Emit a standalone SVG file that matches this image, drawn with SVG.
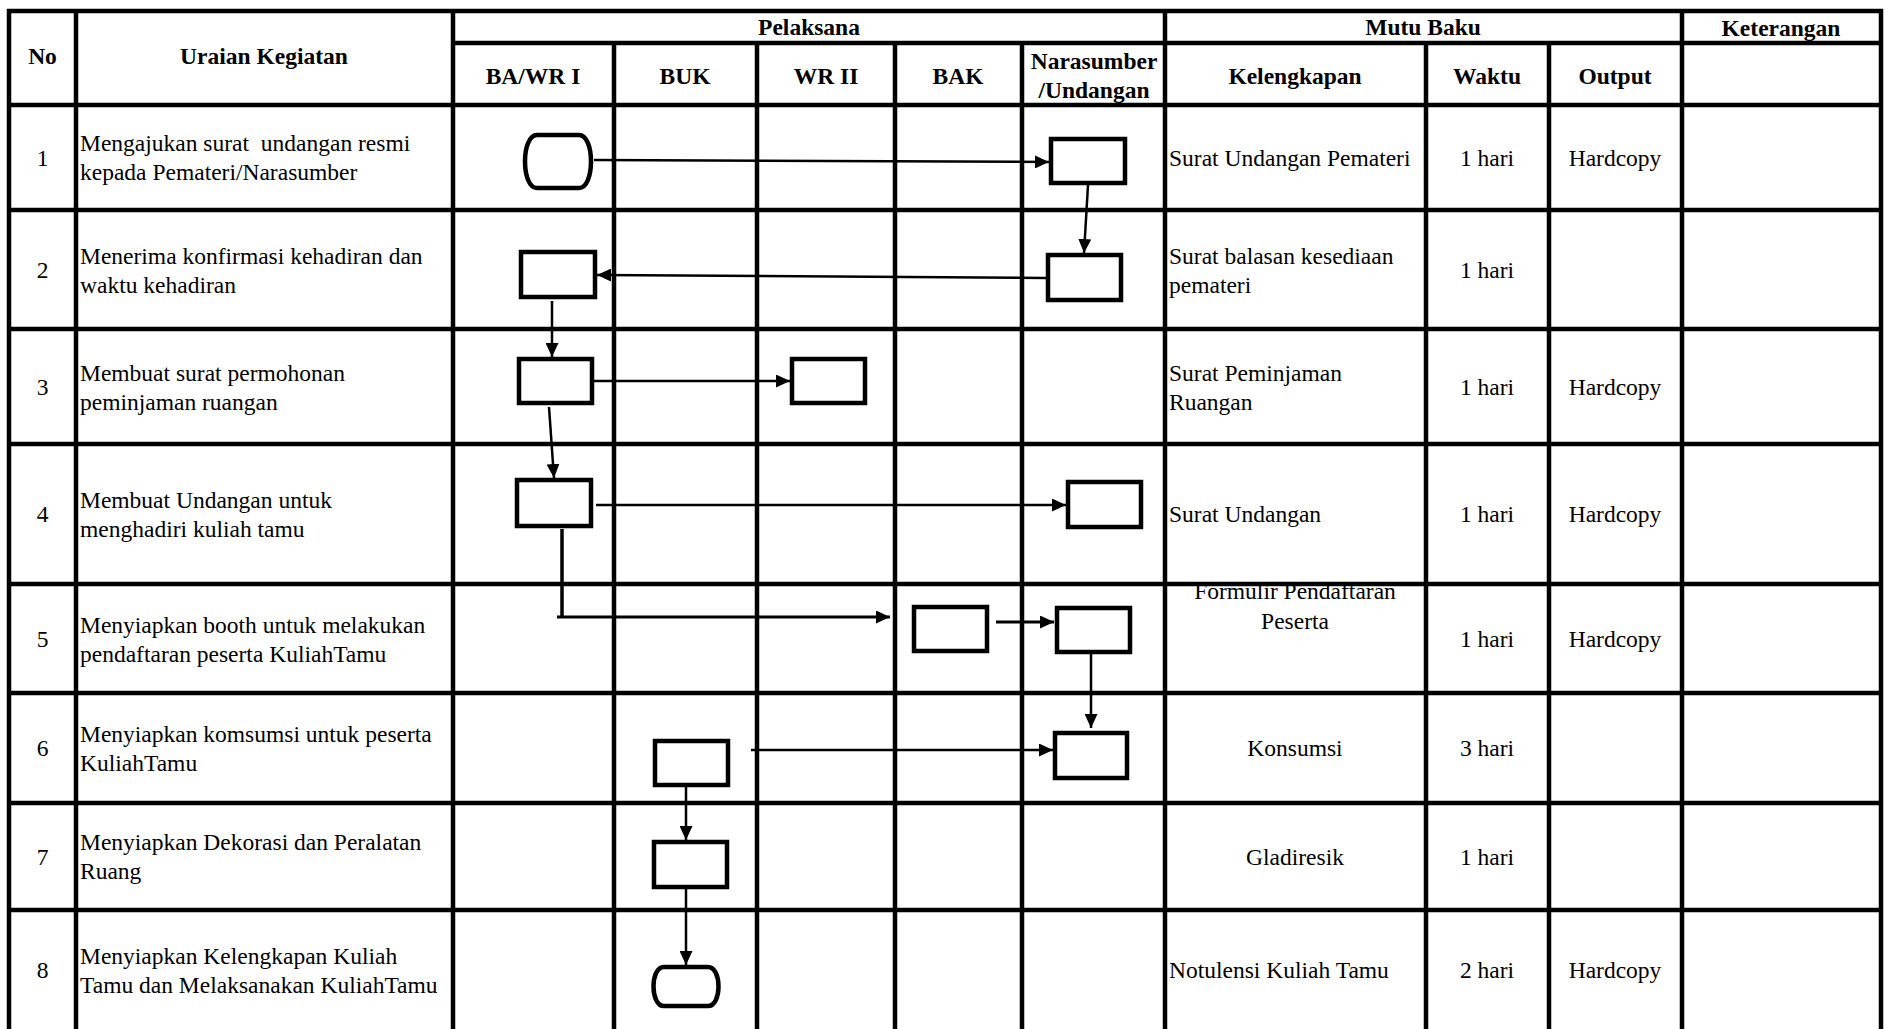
<svg xmlns="http://www.w3.org/2000/svg" width="1891" height="1029" viewBox="0 0 1891 1029">
<style>
.grid line { stroke:#000; stroke-width:4.5; }
.n { fill:#fff; stroke:#000; stroke-width:4.5; }
.c { stroke:#000; stroke-width:2.5; fill:none; marker-end:url(#ah); }
.c0 { stroke:#000; stroke-width:3.5; fill:none; }
text { font-family:"Liberation Serif","Times New Roman",serif; font-size:23.5px; fill:#000; }
.h { font-weight:bold; }
.m { text-anchor:middle; }
</style>
<defs>
<marker id="ah" markerUnits="userSpaceOnUse" markerWidth="14" markerHeight="13" refX="14" refY="6.5" orient="auto">
<path d="M0,0 L14,6.5 L0,13 Z" fill="#000"/>
</marker>
</defs>
<rect width="1891" height="1029" fill="#fff"/>

<g id="texts">
<text class="h m" x="42.5" y="64">No</text>
<text class="h m" x="264" y="64">Uraian Kegiatan</text>
<text class="h m" x="809" y="35">Pelaksana</text>
<text class="h m" x="1423" y="35">Mutu Baku</text>
<text class="h m" x="1781" y="36">Keterangan</text>
<text class="h m" x="533" y="84">BA/WR I</text>
<text class="h m" x="685" y="84">BUK</text>
<text class="h m" x="826" y="84">WR II</text>
<text class="h m" x="958" y="84">BAK</text>
<text class="h m" x="1094" y="69">Narasumber</text>
<text class="h m" x="1094" y="98">/Undangan</text>
<text class="h m" x="1295" y="84">Kelengkapan</text>
<text class="h m" x="1487" y="84">Waktu</text>
<text class="h m" x="1615" y="84">Output</text>

<text class="m" x="42.5" y="165.5">1</text>
<text class="m" x="42.5" y="277.5">2</text>
<text class="m" x="42.5" y="394.5">3</text>
<text class="m" x="42.5" y="522">4</text>
<text class="m" x="42.5" y="646.5">5</text>
<text class="m" x="42.5" y="756">6</text>
<text class="m" x="42.5" y="864.5">7</text>
<text class="m" x="42.5" y="978">8</text>

<text x="80" y="151" xml:space="preserve">Mengajukan surat  undangan resmi</text>
<text x="80" y="180">kepada Pemateri/Narasumber</text>
<text x="80" y="264">Menerima konfirmasi kehadiran dan</text>
<text x="80" y="293">waktu kehadiran</text>
<text x="80" y="381">Membuat surat permohonan</text>
<text x="80" y="410">peminjaman ruangan</text>
<text x="80" y="508">Membuat Undangan untuk</text>
<text x="80" y="537">menghadiri kuliah tamu</text>
<text x="80" y="633">Menyiapkan booth untuk melakukan</text>
<text x="80" y="662">pendaftaran peserta KuliahTamu</text>
<text x="80" y="742">Menyiapkan komsumsi untuk peserta</text>
<text x="80" y="771">KuliahTamu</text>
<text x="80" y="850">Menyiapkan Dekorasi dan Peralatan</text>
<text x="80" y="879">Ruang</text>
<text x="80" y="964">Menyiapkan Kelengkapan Kuliah</text>
<text x="80" y="993">Tamu dan Melaksanakan KuliahTamu</text>

<text x="1169" y="165.5">Surat Undangan Pemateri</text>
<text x="1169" y="264">Surat balasan kesediaan</text>
<text x="1169" y="293">pemateri</text>
<text x="1169" y="381">Surat Peminjaman</text>
<text x="1169" y="410">Ruangan</text>
<text x="1169" y="522">Surat Undangan</text>
<text class="m" x="1295" y="599">Formulir Pendaftaran</text>
<text class="m" x="1295" y="629">Peserta</text>
<text class="m" x="1295" y="756">Konsumsi</text>
<text class="m" x="1295" y="864.5">Gladiresik</text>
<text x="1169" y="978">Notulensi Kuliah Tamu</text>

<text class="m" x="1487" y="165.5">1 hari</text>
<text class="m" x="1487" y="277.5">1 hari</text>
<text class="m" x="1487" y="394.5">1 hari</text>
<text class="m" x="1487" y="522">1 hari</text>
<text class="m" x="1487" y="646.5">1 hari</text>
<text class="m" x="1487" y="756">3 hari</text>
<text class="m" x="1487" y="864.5">1 hari</text>
<text class="m" x="1487" y="978">2 hari</text>

<text class="m" x="1615" y="165.5">Hardcopy</text>
<text class="m" x="1615" y="394.5">Hardcopy</text>
<text class="m" x="1615" y="522">Hardcopy</text>
<text class="m" x="1615" y="646.5">Hardcopy</text>
<text class="m" x="1615" y="978">Hardcopy</text>
</g>

<g class="grid" id="grid">
<line x1="7" y1="11" x2="1883" y2="11"/>
<line x1="451" y1="43" x2="1883" y2="43"/>
<line x1="7" y1="105" x2="1883" y2="105"/>
<line x1="7" y1="210" x2="1883" y2="210"/>
<line x1="7" y1="329" x2="1883" y2="329"/>
<line x1="7" y1="444" x2="1883" y2="444"/>
<line x1="7" y1="584" x2="1883" y2="584"/>
<line x1="7" y1="693" x2="1883" y2="693"/>
<line x1="7" y1="803" x2="1883" y2="803"/>
<line x1="7" y1="910" x2="1883" y2="910"/>
<line x1="9" y1="9" x2="9" y2="1029"/>
<line x1="76" y1="9" x2="76" y2="1029"/>
<line x1="453" y1="9" x2="453" y2="1029"/>
<line x1="614" y1="43" x2="614" y2="1029"/>
<line x1="757" y1="43" x2="757" y2="1029"/>
<line x1="895" y1="43" x2="895" y2="1029"/>
<line x1="1022" y1="43" x2="1022" y2="1029"/>
<line x1="1165" y1="9" x2="1165" y2="1029"/>
<line x1="1426" y1="43" x2="1426" y2="1029"/>
<line x1="1549" y1="43" x2="1549" y2="1029"/>
<line x1="1682" y1="9" x2="1682" y2="1029"/>
<line x1="1881" y1="9" x2="1881" y2="1029"/>
</g>

<g id="connectors">
<line class="c" x1="594" y1="160" x2="1049" y2="162"/>
<line class="c" x1="1088" y1="185" x2="1084" y2="253"/>
<line class="c" x1="1046" y1="278" x2="597" y2="275"/>
<line class="c" x1="552" y1="301" x2="552" y2="357"/>
<line class="c" x1="594" y1="381" x2="790" y2="381"/>
<line class="c" x1="549" y1="407" x2="554" y2="478"/>
<line class="c" x1="596" y1="505" x2="1066" y2="505"/>
<line class="c0" x1="562" y1="529" x2="562" y2="617"/>
<line class="c" x1="557" y1="617" x2="890" y2="617" style="stroke-width:3"/>
<line class="c" x1="996" y1="622" x2="1054" y2="622" style="stroke-width:3"/>
<line class="c" x1="1091" y1="654" x2="1091" y2="728"/>
<line class="c" x1="751" y1="750" x2="1053" y2="750"/>
<line class="c" x1="686" y1="787" x2="686" y2="840"/>
<line class="c" x1="686" y1="889" x2="686" y2="965"/>
</g>

<g id="n1"><path class="n" d="M537,135 H579 C595,135 595,188 579,188 H537 C521,188 521,135 537,135 Z"/></g>
<g id="n2"><rect class="n" x="1051" y="139" width="74" height="44"/></g>
<g id="n3"><rect class="n" x="1048" y="255" width="73" height="45"/></g>
<g id="n4"><rect class="n" x="521" y="252" width="74" height="45"/></g>
<g id="n5"><rect class="n" x="519" y="359" width="73" height="44"/></g>
<g id="n6"><rect class="n" x="792" y="359" width="73" height="44"/></g>
<g id="n7"><rect class="n" x="517" y="480" width="74" height="46"/></g>
<g id="n8"><rect class="n" x="1068" y="482" width="73" height="45"/></g>
<g id="n9"><rect class="n" x="914" y="607" width="73" height="44"/></g>
<g id="n10"><rect class="n" x="1057" y="608" width="73" height="44"/></g>
<g id="n11"><rect class="n" x="655" y="741" width="73" height="44"/></g>
<g id="n12"><rect class="n" x="1055" y="733" width="72" height="45"/></g>
<g id="n13"><rect class="n" x="654" y="842" width="73" height="45"/></g>
<g id="n14"><path class="n" d="M664,967 H708 C722,967 722,1006 708,1006 H664 C650,1006 650,967 664,967 Z"/></g>
</svg>
